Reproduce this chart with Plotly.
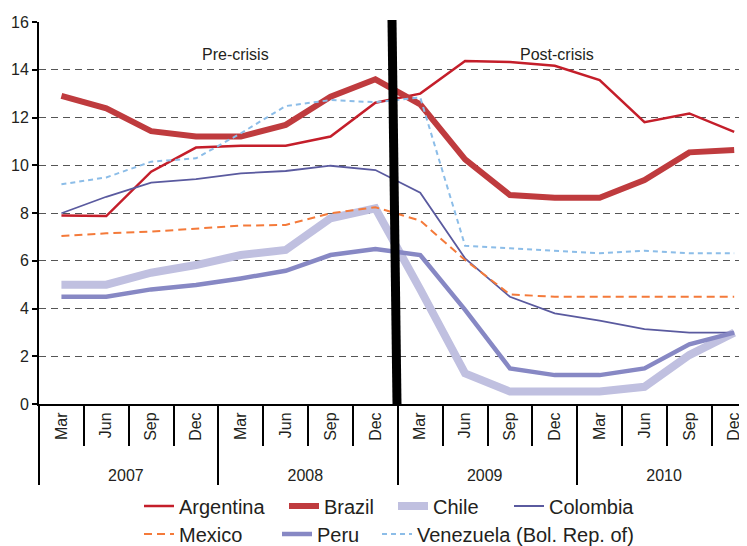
import plotly.graph_objects as go

# ---- data ----
years = ["2007"] * 4 + ["2008"] * 4 + ["2009"] * 4 + ["2010"] * 4
quarters = ["Mar", "Jun", "Sep", "Dec"] * 4

argentina = [7.9, 7.87, 9.73, 10.74, 10.82, 10.82, 11.2, 12.62, 13.0, 14.37, 14.32, 14.17, 13.57, 11.8, 12.17, 11.4]
brazil = [12.91, 12.38, 11.43, 11.2, 11.2, 11.69, 12.87, 13.6, 12.55, 10.25, 8.75, 8.64, 8.64, 9.38, 10.54, 10.64]
chile = [5.0, 5.0, 5.5, 5.82, 6.24, 6.45, 7.78, 8.2, 4.8, 1.28, 0.52, 0.52, 0.52, 0.72, 2.05, 2.99]
colombia = [7.99, 8.68, 9.27, 9.42, 9.66, 9.76, 9.98, 9.8, 8.85, 6.1, 4.49, 3.8, 3.49, 3.14, 2.99, 2.99]
mexico = [7.04, 7.15, 7.22, 7.36, 7.47, 7.5, 7.99, 8.24, 7.68, 6.03, 4.59, 4.49, 4.49, 4.49, 4.49, 4.49]
peru = [4.49, 4.49, 4.8, 4.98, 5.26, 5.58, 6.24, 6.49, 6.24, 3.94, 1.49, 1.21, 1.21, 1.49, 2.5, 2.99]
venezuela = [9.2, 9.49, 10.15, 10.29, 11.34, 12.48, 12.73, 12.64, 12.84, 6.63, 6.52, 6.42, 6.31, 6.42, 6.31, 6.31]

y_ticks = [0, 2, 4, 6, 8, 10, 12, 14, 16]

FONT = "Liberation Sans, Arial, sans-serif"
TXT = "#231f20"

# the page body has an 8px margin, so the figure is drawn 8px in from the top-left corner
OFF = 8
W, H = 747 - OFF, 546 - OFF
PX_L, PX_T, PX_B = 39, 22, 404          # screen px of plot edges
L = PX_L - OFF
T = PX_T - OFF
PLOT_W = W - L
PLOT_H = PX_B - PX_T
B = H - T - PLOT_H

# padding so the rotated quarter labels take the same depth as in the reference
PAD = "\u00a0\u00a0"
quarter_labels = [PAD + q for q in quarters]

# (name, values, line style, legend-line x start px, legend row centre y px)
series = [
    ("Argentina", argentina, dict(color="#c41e2a", width=2.5), 145, 507),
    ("Brazil", brazil, dict(color="#bf3b3e", width=6), 290, 507),
    ("Chile", chile, dict(color="#c0c0e0", width=8), 399, 507),
    ("Colombia", colombia, dict(color="#5a5a9f", width=1.8), 515, 507),
    ("Mexico", mexico, dict(color="#f47a3a", width=2, dash="8px,5px"), 145, 535),
    ("Peru", peru, dict(color="#8788c4", width=4.5), 283, 535),
    ("Venezuela (Bol. Rep. of)", venezuela, dict(color="#8cbde8", width=2, dash="5px,4px"), 383, 535),
]

fig = go.Figure()
legend_layout = {}
for i, (name, vals, line, lx, ly) in enumerate(series):
    key = "legend" if i == 0 else f"legend{i + 1}"
    fig.add_trace(go.Scatter(
        x=[years, quarter_labels], y=vals, name=name, mode="lines",
        line=line, legend=key,
    ))
    legend_layout[key] = dict(
        orientation="h", xref="container", yref="container",
        x=(lx - OFF - 6) / W, y=1 - (ly - OFF - 1) / H, xanchor="left", yanchor="middle",
        font=dict(size=20, family=FONT, color=TXT), bgcolor="rgba(0,0,0,0)",
        itemwidth=30,
    )

fig.update_layout(
    width=W, height=H,
    margin=dict(l=L, r=0, t=T, b=B, autoexpand=False),
    paper_bgcolor="white", plot_bgcolor="white",
    font=dict(family=FONT, color=TXT, size=16),
    xaxis=dict(
        type="multicategory",
        range=[-0.5, -0.5 + 708 / 44.85],
        automargin=False,
        showline=True, linecolor="black", linewidth=2,
        showgrid=False, zeroline=False,
        ticks="outside", tickson="boundaries", ticklen=40, tickcolor="black", tickwidth=1.5,
        tickangle=-90,
        tickfont=dict(size=16, family=FONT, color=TXT),
        showdividers=True, dividercolor="black", dividerwidth=1.5,
    ),
    yaxis=dict(
        range=[0, 16], tickvals=y_ticks,
        automargin=False,
        showline=True, linecolor="black", linewidth=2,
        ticks="outside", ticklen=5, tickcolor="black", tickwidth=1.5,
        showgrid=True, gridcolor="#555555", gridwidth=1, griddash="7px,5px",
        zeroline=False,
        tickfont=dict(size=16, family=FONT, color=TXT),
    ),
    showlegend=True,
    **legend_layout,
)


def px_x(sx):
    return (sx - PX_L) / PLOT_W


def px_y(sy):
    return (PX_B - sy) / PLOT_H


# crisis divider (thick black bar)
fig.add_shape(type="line", xref="paper", yref="paper",
              x0=px_x(392), y0=px_y(20), x1=px_x(397), y1=px_y(404),
              line=dict(color="black", width=9), layer="above")

fig.add_annotation(text="Pre-crisis", xref="paper", yref="paper",
                   x=px_x(200), y=px_y(44), showarrow=False,
                   font=dict(size=16, family=FONT, color=TXT))
fig.add_annotation(text="Post-crisis", xref="paper", yref="paper",
                   x=px_x(596), y=px_y(44), showarrow=False,
                   font=dict(size=16, family=FONT, color=TXT))

fig.write_html("out.html")
